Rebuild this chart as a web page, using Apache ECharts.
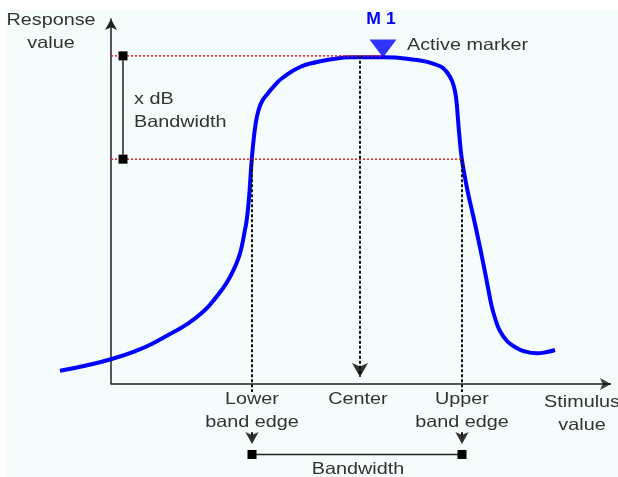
<!DOCTYPE html>
<html>
<head>
<meta charset="utf-8">
<script src="https://cdn.jsdelivr.net/npm/echarts@6/dist/echarts.min.js"></script>
<style>
html,body{margin:0;padding:0;background:#fff;}
#chart{width:618px;height:477px;}
</style>
</head>
<body>
<div id="chart"></div>
<script>
// Response curve (stimulus value, response value)
const curveX = [-10.2, -5.2, 0.14, 5.46, 8.14, 10.8, 15.46, 18.8, 20.46, 22.14, 23.46, 24.8, 25.6, 26.14, 26.66, 27.14, 27.62, 27.86, 28.16, 28.52, 28.96, 29.52, 30.24, 31.2, 32.6, 34.4, 37.8, 41.2, 44.4, 47.8, 54.4, 61.2, 63.8, 65.2, 66.46, 67.8, 68.6, 69.06, 69.36, 69.66, 70.06, 70.6, 71.4, 72.4, 73.4, 74.4, 75.3, 76.0, 76.8, 77.8, 79.2, 80.8, 82.8, 85.2, 87.2, 88.8];
const curveY = [3.64, 5.01, 6.85, 9.32, 10.96, 12.96, 16.63, 20.27, 22.82, 25.75, 28.49, 32.14, 34.88, 37.62, 41.29, 44.93, 51.23, 55.89, 61.64, 66.85, 71.51, 75.07, 77.53, 79.32, 81.64, 83.97, 86.85, 88.22, 89.04, 89.51, 89.51, 88.77, 88.03, 87.4, 86.49, 84.19, 81.37, 77.81, 73.15, 68.22, 62.74, 58.08, 52.33, 46.3, 40.0, 33.42, 27.12, 22.19, 18.08, 14.52, 11.78, 10.14, 8.9, 8.41, 8.77, 9.32];
// reference levels: peak level and x dB level
const levelValues = [89.9, 61.6];
// stimulus positions: lower band edge, center, upper band edge
const edgeValues = [28.2, 49.8, 70.2];
const edgeLabels = ['Lower\nband edge', 'Center', 'Upper\nband edge'];
// active marker (stimulus, response)
const markerPoint = [54.4, 89.6];
const markerName = 'M 1';
// bracket for x dB bandwidth (stimulus position)
const bracketX = [2.4];
// stimulus axis extent
const stimulusRange = [0, 100];
// bandwidth bar row and dropped-edge extents (response units, below axis)
const bandRowY = [-19.3];
const edgeDrop = [-2.2];
const stubY = [-13.2, -14.8];

const chart = echarts.init(document.getElementById('chart'), null, {renderer: 'canvas'});

const FONT = '16.5px "Liberation Sans", Arial, sans-serif';
const TXT = '#333';
const SX = 1.2;

function txt(text, x, y, align) {
  return {
    type: 'text', x: x, y: y, scaleX: SX, z: 100,
    style: {text: text, font: FONT, fill: TXT, align: align, textAlign: align,
            verticalAlign: 'middle', textVerticalAlign: 'middle', lineHeight: 23}
  };
}

const red = {color: '#f01818', width: 1.5, type: [2, 2]};
const dash = {color: '#111', width: 2, type: [3, 2]};
const common = {type: 'line', clip: false, silent: true, animation: false, symbol: 'none'};

const series = [
  Object.assign({}, common, {
    name: 'curve', z: 2,
    data: curveX.map((x, i) => [x, curveY[i]]),
    smooth: 0.5,
    lineStyle: {color: '#0000ff', width: 4}
  }),
  // stimulus axis line
  Object.assign({}, common, {z: 3, data: [[stimulusRange[0], 0], [stimulusRange[1], 0]],
    lineStyle: {color: '#222', width: 1.5}}),
  {type: 'scatter', clip: false, silent: true, animation: false, z: 3,
    symbol: 'arrow', symbolRotate: -90, symbolSize: [9, 11],
    itemStyle: {color: '#111'}, data: [[stimulusRange[1], 0]]},
  Object.assign({}, common, {z: 3, data: [[0, levelValues[0]], [markerPoint[0], levelValues[0]]], lineStyle: red}),
  Object.assign({}, common, {z: 3, data: [[0, levelValues[1]], [edgeValues[2], levelValues[1]]], lineStyle: red}),
  Object.assign({}, common, {z: 4, data: [[bracketX[0], levelValues[0]], [bracketX[0], levelValues[1]]],
    symbol: 'rect', symbolSize: 9, showSymbol: true, itemStyle: {color: '#000'},
    lineStyle: {color: '#222', width: 1.5}}),
  Object.assign({}, common, {z: 4, data: [[edgeValues[0], levelValues[1]], [edgeValues[0], edgeDrop[0]]], lineStyle: dash}),
  Object.assign({}, common, {z: 4, data: [[edgeValues[1], levelValues[0]], [edgeValues[1], 2]], lineStyle: dash}),
  Object.assign({}, common, {z: 4, data: [[edgeValues[2], levelValues[1]], [edgeValues[2], edgeDrop[0]]], lineStyle: dash}),
  Object.assign({}, common, {z: 4, data: [[edgeValues[0], stubY[0]], [edgeValues[0], stubY[1]]], lineStyle: dash}),
  Object.assign({}, common, {z: 4, data: [[edgeValues[2], stubY[0]], [edgeValues[2], stubY[1]]], lineStyle: dash}),
  Object.assign({}, common, {z: 4, data: [[edgeValues[0], bandRowY[0]], [edgeValues[2], bandRowY[0]]],
    symbol: 'rect', symbolSize: 9, showSymbol: true, itemStyle: {color: '#000'},
    lineStyle: {color: '#222', width: 1.5}}),
  {type: 'scatter', clip: false, silent: true, animation: false, z: 5,
    symbol: 'arrow', symbolRotate: 180, symbolSize: [12, 14], symbolOffset: [0, -7],
    itemStyle: {color: '#000'}, data: [[edgeValues[1], 0]]},
  {type: 'scatter', clip: false, silent: true, animation: false, z: 5,
    symbol: 'arrow', symbolRotate: 180, symbolSize: [10, 12], symbolOffset: [0, -10.5],
    itemStyle: {color: '#000'}, data: [[edgeValues[0], bandRowY[0]], [edgeValues[2], bandRowY[0]]]},
  {type: 'scatter', clip: false, silent: true, animation: false, z: 6,
    symbol: 'triangle', symbolRotate: 180, symbolSize: [27, 18], symbolOffset: [0, -8.5],
    itemStyle: {color: '#0000ff'}, data: [markerPoint]}
];

const option = {
  backgroundColor: '#ffffff',
  animation: false,
  grid: {left: 51, right: 7, top: 19, bottom: 93, containLabel: false, outerBoundsMode: 'none'},
  xAxis: {
    type: 'value', min: -12, max: 100,
    axisLine: {show: false}, axisTick: {show: false}, axisLabel: {show: false}, splitLine: {show: false}
  },
  yAxis: {
    type: 'value', min: 0, max: 100,
    axisLine: {show: true, onZero: true, symbol: ['none', 'arrow'], symbolSize: [9, 11],
               lineStyle: {color: '#222', width: 1.5}},
    axisTick: {show: false}, axisLabel: {show: false}, splitLine: {show: false}
  },
  graphic: [
    {type: 'rect', z: -10, silent: true, shape: {x: 6, y: 10, width: 612, height: 467}, style: {fill: '#f4fcfc'}},
    txt('Response\nvalue', 51, 32, 'center'),
    txt('x dB\nBandwidth', 134, 111, 'left'),
    txt('Active marker', 407, 45, 'left'),
    {type: 'text', x: 381, y: 20, scaleX: 1.1, z: 100,
      style: {text: markerName, font: 'bold 16px "Liberation Sans", Arial, sans-serif', fill: '#0000ff',
              align: 'center', textAlign: 'center', verticalAlign: 'middle', textVerticalAlign: 'middle'}},
    txt(edgeLabels[0], 252, 411, 'center'),
    txt(edgeLabels[1], 358, 399, 'center'),
    txt(edgeLabels[2], 462, 411, 'center'),
    txt('Stimulus\nvalue', 582, 414, 'center'),
    txt('Bandwidth', 358, 469, 'center')
  ],
  series: series
};
chart.setOption(option);
</script>
</body>
</html>
